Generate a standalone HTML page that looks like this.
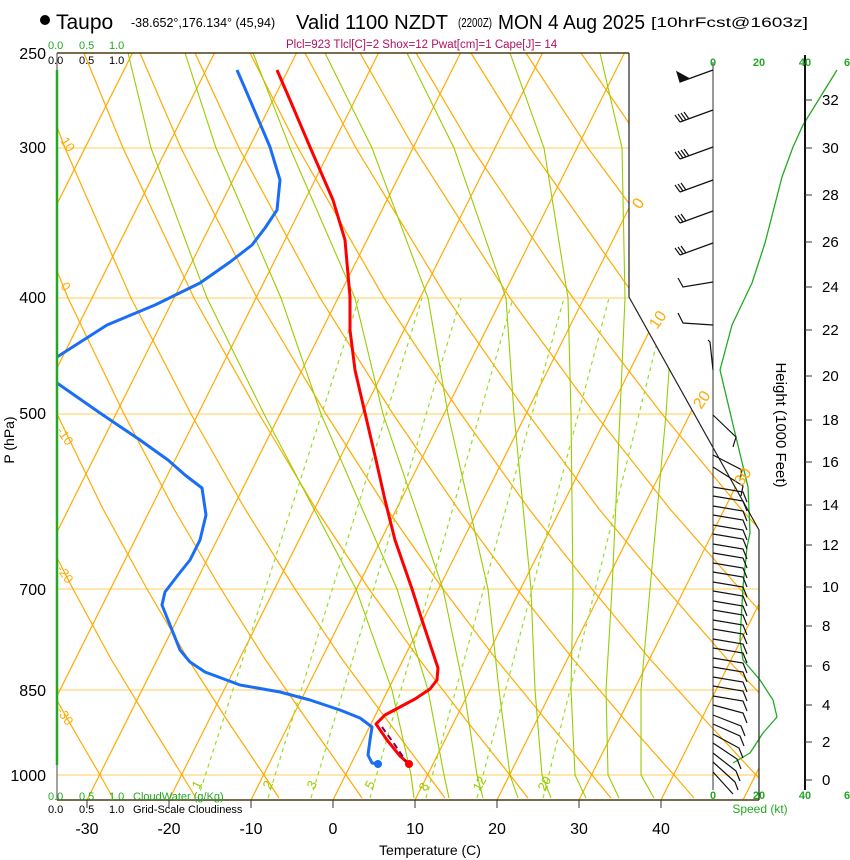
<!DOCTYPE html>
<html><head><meta charset="utf-8"><style>
html,body{margin:0;padding:0;background:#fff;}
svg{display:block;font-family:"Liberation Sans",sans-serif;}
</style></head><body>
<svg width="850" height="860" viewBox="0 0 850 860" xmlns="http://www.w3.org/2000/svg">
<defs><clipPath id="cp"><polygon points="57,53 629,53 629,297 759,530 759,800 57,800"/></clipPath></defs>
<g clip-path="url(#cp)" fill="none">
<g stroke="#ffcc55" stroke-width="1">
<line x1="57" y1="148" x2="760" y2="148"/><line x1="57" y1="298" x2="760" y2="298"/><line x1="57" y1="414" x2="760" y2="414"/>
<line x1="57" y1="589" x2="760" y2="589"/><line x1="57" y1="690" x2="760" y2="690"/><line x1="57" y1="775" x2="760" y2="775"/>
</g>
<g stroke="#ffaa00" stroke-width="1.2">
<line x1="-487" y1="800" x2="-113.5" y2="53"/><line x1="-405" y1="800" x2="-31.5" y2="53"/><line x1="-323" y1="800" x2="50.5" y2="53"/>
<line x1="-241" y1="800" x2="132.5" y2="53"/><line x1="-159" y1="800" x2="214.5" y2="53"/><line x1="-77" y1="800" x2="296.5" y2="53"/>
<line x1="5" y1="800" x2="378.5" y2="53"/><line x1="87" y1="800" x2="460.5" y2="53"/><line x1="169" y1="800" x2="542.5" y2="53"/>
<line x1="251" y1="800" x2="624.5" y2="53"/><line x1="333" y1="800" x2="706.5" y2="53"/><line x1="415" y1="800" x2="788.5" y2="53"/>
<line x1="497" y1="800" x2="870.5" y2="53"/><line x1="579" y1="800" x2="952.5" y2="53"/><line x1="661" y1="800" x2="1034.5" y2="53"/>
<line x1="743" y1="800" x2="1116.5" y2="53"/>
</g>
<g stroke="#ffaa00" stroke-width="1.2">
<polyline points="113,798 100,775 68,720 34,659 -1,589"/>
<polyline points="196,798 182,775 148,720 111,659 73,589 32,509 -11,414"/>
<polyline points="279,798 264,775 227,720 188,659 147,589 103,509 57,414 5,298 -51,148"/>
<polyline points="362,798 346,775 307,720 265,659 221,589 174,509 124,414 68,298 7,148 -26,53"/>
<polyline points="445,798 428,775 387,720 342,659 295,589 245,509 191,414 131,298 65,148 29,53"/>
<polyline points="528,798 510,775 466,720 419,659 369,589 316,509 259,414 194,298 123,148 84,53"/>
<polyline points="611,798 592,775 546,720 496,659 443,589 387,509 326,414 257,298 181,148 140,53"/>
<polyline points="694,798 674,775 625,720 573,659 517,589 458,509 393,414 320,298 239,148 195,53"/>
<polyline points="777,798 756,775 705,720 650,659 592,589 529,509 461,414 384,298 298,148 250,53"/>
<polyline points="860,798 838,775 785,720 727,659 666,589 599,509 528,414 447,298 356,148 305,53"/>
<polyline points="943,798 920,775 864,720 803,659 740,589 670,509 595,414 510,298 414,148 360,53"/>
<polyline points="1026,798 1002,775 944,720 880,659 814,589 741,509 662,414 573,298 472,148 416,53"/>
<polyline points="1109,798 1084,775 1023,720 957,659 888,589 812,509 730,414 636,298 530,148 471,53"/>
<polyline points="1192,798 1166,775 1103,720 1034,659 962,589 883,509 797,414 699,298 588,148 526,53"/>
<polyline points="1275,798 1248,775 1183,720 1111,659 1036,589 954,509 864,414 762,298 646,148 581,53"/>
<polyline points="1358,798 1330,775 1262,720 1188,659 1110,589 1025,509 932,414 825,298 704,148 636,53"/>
<polyline points="1441,798 1412,775 1342,720 1265,659 1184,589 1096,509 999,414 888,298 762,148 692,53"/>
</g>
<g stroke="#99cc00" stroke-width="1.1">
<polyline points="414,798 411,775 392,690 356,589 264,414 207,298 151,148 128,53"/>
<polyline points="449,798 444,775 428,690 397,589 321,414 281,298 216,148 185,53"/>
<polyline points="483,798 477,775 464,690 443,589 383,414 355,298 290,148 253,53"/>
<polyline points="518,798 510,775 499,690 488,589 448,414 428,298 372,148 325,53"/>
<polyline points="551,798 542,775 535,690 531,589 514,414 506,298 454,148 407,53"/>
<polyline points="586,798 575,775 571,690 573,589 571,414 568,298 544,148 510,53"/>
<polyline points="619,798 608,775 606,690 612,589 620,414 625,298 622,148 600,53"/>
<polyline points="654,798 641,775 641,690 650,589 666,414 674,298 684,148 690,53"/>
</g>
<g stroke="#99dd22" stroke-width="1.2" stroke-dasharray="4,4">
<line x1="198" y1="798" x2="359" y2="298"/><line x1="268" y1="798" x2="422" y2="298"/><line x1="311" y1="798" x2="461" y2="298"/>
<line x1="370" y1="798" x2="513" y2="298"/><line x1="426" y1="798" x2="564" y2="298"/><line x1="477" y1="798" x2="609" y2="298"/>
<line x1="543" y1="798" x2="668" y2="298"/>
</g>
</g>
<g fill="none" stroke-linejoin="round">
<polyline stroke="#ff0000" stroke-width="3" points="277,70 290,100 310,147 333,200 345,240 350,297 350,330 355,370 365,413 376,460 385,500 395,540 412,589 422,620 432,650 438,668 437,680 430,689 415,699 400,707 385,715 376,724 387,740 400,756 409,764"/>
<polyline stroke="#1a6ef5" stroke-width="3" points="237,70 250,100 270,147 280,180 277,210 265,228 252,245 230,262 200,283 155,305 107,325 57,357"/>
<polyline stroke="#1a6ef5" stroke-width="3" points="57,383 100,413 140,440 168,460 185,475 202,488 206,515 200,540 190,560 178,575 165,592 162,605 170,625 180,650 190,662 205,672 240,685 280,692 310,700 340,710 360,718 372,727 370,740 368,755 372,763 378,764"/>
<polyline stroke="#800060" stroke-width="2" stroke-dasharray="6,4" points="382,727 395,745 408,764"/>
<polyline stroke="#22aa22" stroke-width="1.3" points="837,70 803,125 793,147 782,177 765,243 752,283 732,325 720,370 735,433 748,487 750,533 747,547 743,587 740,640 743,660 760,680 773,700 777,717 763,733 750,753 733,763"/>
</g>
<circle cx="409" cy="764" r="4" fill="#ff0000"/>
<circle cx="378" cy="764" r="4" fill="#1a6ef5"/>
<line x1="57" y1="53" x2="629" y2="53" stroke="#4a3c10" stroke-width="1.5"/>
<polyline points="629,53 629,297 759,530 759,800" fill="none" stroke="#222" stroke-width="1.2"/>
<line x1="57" y1="800" x2="759" y2="800" stroke="#4a3c10" stroke-width="1.5"/>
<line x1="57" y1="53" x2="57" y2="800" stroke="#444" stroke-width="1"/>
<line x1="57" y1="70" x2="57" y2="765" stroke="#22aa22" stroke-width="2.5"/>
<line x1="713" y1="62" x2="713" y2="790" stroke="#333" stroke-width="1"/>
<line x1="805" y1="55" x2="805" y2="790" stroke="#111" stroke-width="2"/>
<g stroke="#111" stroke-width="1.2" fill="none">
<path d="M713 70L680 82"/><polygon points="680,82 677,72 688,78" fill="#111"/>
<path d="M713 110L680 122M680 122L675 115M683 121L678 114M686 120L681 113M689 119L684 112"/>
<path d="M713 147L680 159M680 159L675 152M683 158L678 151M686 157L681 150M689 156L684 149"/>
<path d="M713 180L680 192M680 192L675 185M683 191L678 184M686 190L681 183"/>
<path d="M713 211L680 223M680 223L675 216M683 222L678 215M686 221L681 214"/>
<path d="M713 243L680 255M680 255L675 248M683 254L678 247M686 253L681 246"/>
<path d="M713 282L683 287L678 278M713 325L683 323L678 313M713 370L710 342L708 340"/>
<path d="M713 415L736 437L733 447M713 455L742 470L740 480M713 467L743 486L741 496"/>
<path d="M713 487L743 492L747 502M713 496L743 501L747 511M713 506L743 511L747 521M713 515L743 520L747 530M713 525L743 530L747 540M713 534L743 539L747 549M713 544L743 549L747 559M713 553L743 558L747 568M713 563L743 568L747 578M713 572L743 577L747 587M713 582L743 587L747 597M713 591L743 596L747 606M713 601L743 606L747 616M713 610L743 615L747 625M713 620L743 625L747 635M713 629L743 634L747 644M713 639L743 644L747 654M713 648L743 653L747 663M713 658L743 663L747 673M713 667L743 672L747 682M713 677L743 682L747 692M713 686L743 691L747 701M713 696L743 701L747 711"/>
<path d="M713 705L743 713L747 723M713 715L741 726L745 736M713 724L740 736L744 746M713 734L739 748L743 758M713 743L737 759L741 769M713 753L736 771L740 781M713 762L735 782L738 790M713 772L733 794"/>
</g>
<g stroke="#333" stroke-width="1">
<path d="M87 800V808M169 800V808M251 800V808M333 800V808M415 800V808M497 800V808M579 800V808M661 800V808"/>
<path d="M805 780H812M805 742H812M805 705H812M805 666H812M805 626H812M805 587H812M805 545H812M805 505H812M805 462H812M805 420H812M805 376H812M805 330H812M805 287H812M805 242H812M805 195H812M805 148H812M805 100H812"/>
</g>
<g font-size="15">
<text x="822" y="785">0</text><text x="822" y="747">2</text><text x="822" y="710">4</text><text x="822" y="671">6</text><text x="822" y="631">8</text>
<text x="822" y="592">10</text><text x="822" y="550">12</text><text x="822" y="510">14</text><text x="822" y="467">16</text><text x="822" y="425">18</text>
<text x="822" y="381">20</text><text x="822" y="335">22</text><text x="822" y="292">24</text><text x="822" y="247">26</text><text x="822" y="200">28</text>
<text x="822" y="153">30</text><text x="822" y="105">32</text>
</g>
<circle cx="45" cy="20" r="5" fill="#000"/>
<text x="56" y="29" font-size="21">Taupo</text>
<text x="131" y="27" font-size="12.5">-38.652°,176.134° (45,94)</text>
<text x="296" y="29" font-size="20" textLength="152" lengthAdjust="spacingAndGlyphs">Valid 1100 NZDT</text>
<text x="458" y="27" font-size="12.5" textLength="34" lengthAdjust="spacingAndGlyphs">(2200Z)</text>
<text x="498" y="29" font-size="20" textLength="147" lengthAdjust="spacingAndGlyphs">MON 4 Aug 2025</text>
<text x="651" y="27" font-size="13.5" textLength="157" lengthAdjust="spacingAndGlyphs">[10hrFcst@1603z]</text>
<text x="286" y="48" font-size="11.5" fill="#b01060">Plcl=923 Tlcl[C]=2 Shox=12 Pwat[cm]=1 Cape[J]= 14</text>
<g font-size="11" fill="#22aa22"><text x="48" y="49">0.0</text><text x="79" y="49">0.5</text><text x="109" y="49">1.0</text></g>
<g font-size="11" fill="#000"><text x="48" y="64">0.0</text><text x="79" y="64">0.5</text><text x="109" y="64">1.0</text></g>
<g font-size="11" fill="#22aa22"><text x="48" y="800">0.0</text><text x="79" y="800">0.5</text><text x="109" y="800">1.0</text><text x="133" y="800">CloudWater (g/Kg)</text></g>
<g font-size="11" fill="#000"><text x="48" y="813">0.0</text><text x="79" y="813">0.5</text><text x="109" y="813">1.0</text><text x="133" y="813">Grid-Scale Cloudiness</text></g>
<g font-size="16" text-anchor="end"><text x="46" y="59">250</text><text x="46" y="153">300</text><text x="46" y="303">400</text><text x="46" y="419">500</text><text x="46" y="595">700</text><text x="46" y="696">850</text><text x="46" y="781">1000</text></g>
<text transform="translate(14,440) rotate(-90)" font-size="14" text-anchor="middle">P (hPa)</text>
<g font-size="16" text-anchor="middle"><text x="87" y="834">-30</text><text x="169" y="834">-20</text><text x="251" y="834">-10</text><text x="333" y="834">0</text><text x="415" y="834">10</text><text x="497" y="834">20</text><text x="579" y="834">30</text><text x="661" y="834">40</text></g>
<text x="430" y="855" font-size="14" text-anchor="middle">Temperature (C)</text>
<g font-size="11" font-weight="bold" fill="#22aa22" text-anchor="middle"><text x="713" y="66">0</text><text x="759" y="66">20</text><text x="805" y="66">40</text><text x="847" y="66">6</text>
<text x="713" y="799">0</text><text x="759" y="799">20</text><text x="805" y="799">40</text><text x="847" y="799">6</text></g>
<text x="760" y="813" font-size="12" fill="#22aa22" text-anchor="middle">Speed (kt)</text>
<text transform="translate(776,425) rotate(90)" font-size="15" text-anchor="middle">Height (1000 Feet)</text>
<g font-size="16" fill="#ffaa00">
<text transform="translate(640,210) rotate(-55)">0</text>
<text transform="translate(657,330) rotate(-55)">10</text>
<text transform="translate(701,410) rotate(-55)">20</text>
<text transform="translate(742,487) rotate(-55)">30</text>
</g>
<g font-size="13" fill="#ffaa00">
<text transform="translate(60,141) rotate(55)">10</text>
<text transform="translate(60,286) rotate(55)">0</text>
<text transform="translate(56,431) rotate(55)">-10</text>
<text transform="translate(56,569) rotate(55)">-20</text>
<text transform="translate(56,711) rotate(55)">-30</text>
</g>
<g font-size="13" fill="#99cc00">
<text transform="translate(199,790) rotate(-62)">1</text>
<text transform="translate(270,790) rotate(-62)">2</text>
<text transform="translate(314,790) rotate(-62)">3</text>
<text transform="translate(372,790) rotate(-62)">5</text>
<text transform="translate(426,792) rotate(-62)">8</text>
<text transform="translate(480,792) rotate(-62)">12</text>
<text transform="translate(545,792) rotate(-62)">20</text>
</g>
</svg>
</body></html>
